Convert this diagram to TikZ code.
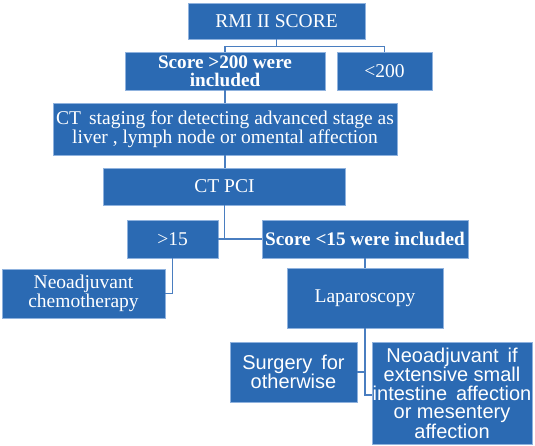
\documentclass[tikz,border=0pt]{standalone}
\usepackage{fontspec}
\setmainfont{Liberation Serif}
\setsansfont{Liberation Sans}
\definecolor{boxfill}{HTML}{2B6AB3}
\definecolor{boxedge}{HTML}{8FB2DE}
\definecolor{linkc}{HTML}{4A7EC0}
\begin{document}
\begin{tikzpicture}[x=1pt,y=-1pt,
  box/.style={draw=boxedge,line width=0.8pt,fill=boxfill,text=white,inner sep=0pt,align=center,
    font=\fontsize{19.5}{18.5}\selectfont},
  sbox/.style={box,font=\sffamily\fontsize{20}{18.3}\selectfont},
  link/.style={draw=linkc,line width=1.2pt}]
\useasboundingbox (0,0) rectangle (535,445);
\fill[white] (0,0) rectangle (535,445);
\node[box,minimum width=177pt,minimum height=36pt] (rmi) at (276.5,21) {RMI II SCORE};
\node[box,minimum width=200pt,minimum height=38pt,font=\bfseries\fontsize{19.2}{18}\selectfont] (s200) at (225,71) {Score >200 were\\included};
\node[box,minimum width=95pt,minimum height=38pt] (lt200) at (384.5,71) {<200};
\node[box,minimum width=344pt,minimum height=52pt] (ct) at (225,129) {CT\, staging for detecting advanced stage as\\liver , lymph node or omental affection};
\node[box,minimum width=242pt,minimum height=37pt] (pci) at (224.5,186.5) {CT PCI};
\node[box,minimum width=91pt,minimum height=38pt] (gt15) at (172.5,239) {>15};
\node[box,minimum width=206pt,minimum height=38pt,font=\bfseries\fontsize{19.2}{18}\selectfont] (s15) at (365,239) {Score <15 were included};
\node[box,minimum width=163pt,minimum height=49pt] (chemo) at (83.5,293.5) {Neoadjuvant\\chemotherapy};
\node[box,minimum width=156pt,minimum height=60pt] (lap) at (365,298) {Laparoscopy};
\node[sbox,minimum width=127pt,minimum height=60pt] (surg) at (293.5,372) {Surgery\, for\\otherwise};
\node[sbox,minimum width=160pt,minimum height=102pt] (neo) at (452,393) {Neoadjuvant\, if\\extensive small\\intestine\, affection\\or mesentery\\affection};
% connectors
\draw[link] (rmi.south) -- ++(0,7) coordinate (j1);
\draw[link] (s200.north) |- (j1) -| (lt200.north);
\draw[link] (s200.south) -- (ct.north);
\draw[link] (ct.south) -- (ct.south |- pci.north);
\draw[link] (gt15.east) -- (s15.west);
\draw[link] (pci.south) -- (pci.south |- gt15.east);
\draw[link] (gt15.south) |- (chemo.east);
\draw[link] (s15.south) -- (lap.north);
\draw[link] (lap.south) |- ([yshift=-2pt]neo.west);
\draw[link] (surg.east) -- (surg.east -| lap.south);
\end{tikzpicture}
\end{document}
